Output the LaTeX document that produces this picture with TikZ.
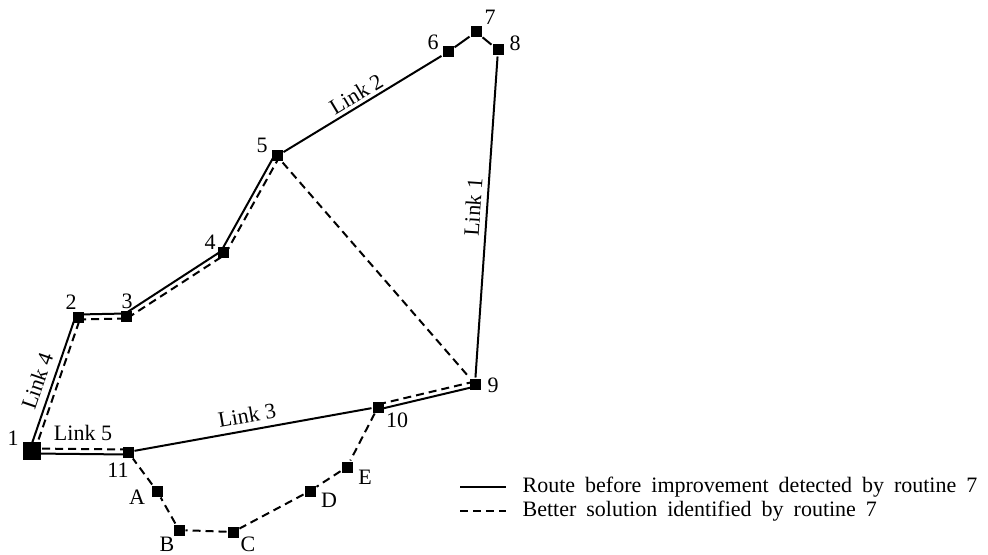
\documentclass[tikz,border=0pt]{standalone}
\usepackage{fontspec}
\setmainfont{Liberation Serif}
\usetikzlibrary{calc}

\begin{document}
\begin{tikzpicture}[x=0.5pt, y=-0.5pt, line width=1pt, line join=round,
    stop/.style={fill=black, inner sep=0pt, minimum size=5.5pt},
    better/.style={dash pattern=on 4pt off 2.5pt},
    legendtext/.style={anchor=west, execute at begin node={\spaceskip=5pt\relax}},
    every node/.append style={font=\fontsize{11}{13}\selectfont}]
  \useasboundingbox (0,0) rectangle (988,555);
  % las paradas, la 1 más grande
  \node[stop, minimum size=9pt] (n1) at (32,451) {};
  \foreach \n/\x/\y in {2/78/317, 3/126/316, 4/223/253, 5/277/156, 6/448/52,
      7/476/32, 8/498/50, 9/475/384, 10/378/407, 11/128/452,
      A/157/491, B/179/530, C/233/532, D/310/491, E/347/467} {
    \node[stop] (n\n) at (\x,\y) {};
  }
  % sus números y letras
  \foreach \n/\x/\y in {1/13/438, 2/71/302, 3/127/301, 4/210/242, 5/262/145,
      6/433/42, 7/490/17, 8/515/43, 9/493/385, 10/397/420, 11/118/470,
      A/137/497, B/167/544, C/248/544, D/329/500, E/365/477} {
    \node (t\n) at (\x,\y) {\n};
  }
  % los tramos que comparten las dos rutas
  \foreach \a/\b in {1/2, 2/3, 3/4, 4/5, 9/10, 11/1} {
    \draw ($(n\a)!1.25pt!90:(n\b)$) -- ($(n\b)!1.25pt!-90:(n\a)$);
    \draw[better] ($(n\a)!1.25pt!-90:(n\b)$) -- ($(n\b)!1.25pt!90:(n\a)$);
  }
  % la ruta de antes
  \draw (n5) -- (n6) -- (n7) -- (n8) -- (n9);
  \draw (n10) -- (n11);
  % la ruta mejor
  \draw[better] (n5) -- (n9);
  \draw[better] (n10) -- (nE) -- (nD) -- (nC) -- (nB) -- (nA) -- (n11);
  % los nombres de los tramos
  \node[rotate=71] (l4) at (37,381) {Link 4};
  \node (l5) at (83,433) {Link 5};
  \node[rotate=10] (l3) at (247,415) {Link 3};
  \node[rotate=31] (l2) at (356,94) {Link 2};
  \node[rotate=86] (l1) at (473,207) {Link 1};
  % la leyenda
  \coordinate (k1a) at (460,487);
  \coordinate (k1b) at (506,487);
  \coordinate (k2a) at (460,511);
  \coordinate (k2b) at (506,511);
  \draw (k1a) -- (k1b);
  \draw[better] (k2a) -- (k2b);
  \node[legendtext] (k1) at (515,487) {Route before improvement detected by routine 7};
  \node[legendtext] (k2) at (515,511) {Better solution identified by routine 7};
\end{tikzpicture}
\end{document}
